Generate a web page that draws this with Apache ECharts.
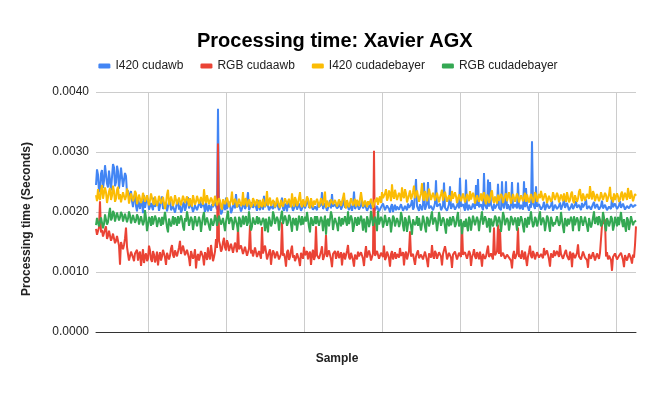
<!DOCTYPE html>
<html lang="en">
<head>
    <meta charset="UTF-8">
    <title>Processing time: Xavier AGX</title>
    <script src="https://cdn.jsdelivr.net/npm/echarts@6/dist/echarts.min.js"></script>
    <style>
        html, body { margin: 0; padding: 0; background: #fff; }
    </style>
</head>
<body>
<div id="main" style="width: 656px;height:406px;"></div>
<script type="text/javascript">
    // values, in milliseconds (about one value per pixel of the plot)
    var i420Cudawb = [
        2.45, 2.71, 2.62, 2.33, 2.38, 2.64, 2.70, 2.40, 2.52, 2.78, 2.76, 2.47, 2.41, 2.69, 2.66, 2.36, 2.58, 2.80, 2.74, 2.43,
        2.49, 2.77, 2.68, 2.39, 2.55, 2.74, 2.72, 2.42, 2.44, 2.65, 2.60, 2.31, 2.36, 2.22, 2.28, 2.35, 2.18, 2.08, 2.25, 2.30,
        2.10, 2.01, 2.22, 2.12, 2.05, 2.20, 2.16, 1.98, 2.28, 2.07, 2.08, 2.25, 2.19, 2.04, 2.02, 2.15, 2.14, 2.03, 2.24, 2.09,
        2.06, 2.14, 2.18, 2.02, 2.10, 2.19, 2.26, 2.05, 2.04, 2.11, 2.15, 2.01, 2.09, 2.17, 2.21, 2.03, 2.00, 2.10, 2.13, 1.99,
        2.07, 2.16, 2.20, 2.04, 2.11, 1.99, 2.03, 2.13, 2.17, 2.02, 2.08, 2.18, 2.25, 2.06, 2.05, 2.15, 2.14, 2.00, 2.02, 2.11,
        2.12, 2.03, 2.06, 2.14, 2.19, 2.07, 2.04, 2.15, 2.10, 2.00, 2.16, 2.06, 2.01, 2.12, 2.09, 2.02, 2.13, 2.08, 2.05, 2.17,
        2.10, 2.04, 3.72, 2.11, 2.08, 1.96, 2.00, 2.09, 2.15, 2.03, 2.24, 2.05, 2.06, 2.17, 2.12, 1.98, 2.03, 2.10, 2.18, 2.06,
        2.30, 2.08, 2.07, 2.13, 2.14, 2.01, 2.02, 2.11, 2.22, 2.05, 2.09, 2.18, 2.33, 2.03, 2.05, 2.12, 2.16, 2.07, 2.04, 2.15,
        2.12, 2.02, 2.20, 2.09, 2.03, 2.14, 2.10, 2.04, 2.27, 2.08, 2.06, 2.17, 2.15, 2.03, 2.01, 2.10, 2.11, 2.05, 2.18, 2.07,
        2.05, 2.16, 2.13, 2.03, 2.08, 2.12, 2.24, 2.06, 2.02, 2.14, 2.10, 2.01, 2.17, 2.08, 2.06, 2.15, 2.12, 2.02, 2.04, 2.11,
        2.19, 2.04, 2.07, 2.14, 2.11, 2.02, 2.03, 2.10, 2.15, 2.06, 2.09, 2.16, 2.22, 2.07, 2.05, 2.12, 2.13, 2.04, 2.01, 2.09,
        2.10, 2.03, 2.16, 2.08, 2.06, 2.12, 2.33, 2.05, 2.09, 2.15, 2.14, 2.02, 2.04, 2.11, 2.20, 2.06, 2.30, 2.09, 2.07, 2.13,
        2.12, 2.06, 2.03, 2.10, 2.18, 2.04, 2.08, 2.13, 2.24, 2.07, 2.05, 2.14, 2.11, 2.03, 2.15, 2.08, 2.02, 2.11, 2.34, 2.05,
        2.09, 2.15, 2.13, 2.04, 2.05, 2.11, 2.20, 2.06, 2.07, 2.13, 2.12, 2.02, 2.03, 2.09, 2.17, 2.05, 2.08, 2.12, 2.14, 2.03,
        2.06, 2.10, 2.12, 2.01, 2.02, 2.08, 2.09, 2.14, 2.15, 2.03, 2.04, 2.11, 2.10, 2.05, 1.99, 2.09, 2.13, 2.00, 2.07, 2.12,
        2.03, 2.09, 2.11, 2.04, 2.06, 2.13, 2.16, 2.02, 2.01, 2.10, 2.09, 2.03, 2.14, 2.07, 2.05, 2.12, 2.20, 2.04, 2.08, 2.11,
        2.55, 2.10, 2.07, 2.02, 2.13, 2.08, 2.03, 2.12, 2.49, 2.04, 2.09, 2.14, 2.50, 2.06, 2.05, 2.10, 2.12, 2.03, 2.08, 2.15,
        2.53, 2.09, 2.06, 2.12, 2.14, 2.03, 2.02, 2.10, 2.49, 2.07, 2.10, 2.02, 2.05, 2.13, 2.43, 2.05, 2.08, 2.14, 2.12, 2.04,
        2.04, 2.11, 2.15, 2.06, 2.57, 2.09, 2.07, 2.13, 2.11, 2.02, 2.54, 2.08, 2.03, 2.12, 2.13, 2.04, 2.08, 2.14, 2.16, 2.05,
        2.45, 2.10, 2.55, 2.08, 2.06, 2.13, 2.12, 2.03, 2.65, 2.11, 2.09, 2.05, 2.54, 2.09, 2.50, 2.12, 2.07, 2.02, 2.14, 2.06,
        2.04, 2.12, 2.47, 2.07, 2.10, 2.03, 2.51, 2.11, 2.06, 2.14, 2.51, 2.05, 2.13, 2.08, 2.03, 2.12, 2.50, 2.06, 2.09, 2.13,
        2.15, 2.06, 2.49, 2.09, 2.05, 2.12, 2.11, 2.04, 2.51, 2.08, 2.40, 2.11, 2.07, 2.02, 2.13, 2.07, 3.18, 2.14, 2.10, 2.05,
        2.43, 2.09, 2.06, 2.13, 2.12, 2.04, 2.02, 2.10, 2.17, 2.03, 2.08, 2.14, 2.13, 2.06, 2.04, 2.11, 2.19, 2.02, 2.07, 2.12,
        2.11, 2.05, 2.03, 2.10, 2.16, 2.04, 2.09, 2.13, 2.22, 2.07, 2.05, 2.15, 2.12, 2.03, 2.00, 2.09, 2.14, 2.05, 2.08, 2.12,
        2.18, 2.07, 2.04, 2.12, 2.10, 2.03, 2.15, 2.08, 2.06, 2.14, 2.21, 2.05, 2.02, 2.10, 2.13, 2.04, 2.09, 2.13, 2.17, 2.06,
        2.05, 2.13, 2.11, 2.04, 2.03, 2.10, 2.19, 2.06, 2.08, 2.12, 2.14, 2.03, 2.01, 2.09, 2.12, 2.05, 2.24, 2.08, 2.06, 2.14,
        2.13, 2.05, 2.04, 2.11, 2.18, 2.07, 2.09, 2.14, 2.15, 2.04, 2.03, 2.10, 2.11, 2.06, 2.07, 2.13, 2.16, 2.08, 2.05, 2.12,
        2.10
    ];
    var rgbCudaawb = [
        1.72, 1.62, 1.65, 1.74, 2.18, 1.66, 1.70, 1.59, 1.62, 1.71, 1.76, 1.55, 1.60, 1.69, 1.68, 1.52, 1.57, 1.64, 1.66, 1.48,
        1.52, 1.60, 1.58, 1.44, 1.12, 1.50, 1.49, 1.38, 1.45, 1.56, 1.74, 1.42, 1.30, 1.19, 1.22, 1.34, 1.35, 1.24, 1.18, 1.31,
        1.28, 1.37, 1.19, 1.30, 1.34, 1.10, 1.24, 1.38, 1.15, 1.27, 1.31, 1.18, 1.22, 1.44, 1.36, 1.21, 1.17, 1.35, 1.29, 1.16,
        1.23, 1.34, 1.11, 1.25, 1.33, 1.19, 1.26, 1.37, 1.40, 1.24, 1.12, 1.32, 1.35, 1.21, 1.27, 1.39, 1.45, 1.28, 1.24, 1.36,
        1.38, 1.26, 1.29, 1.41, 1.52, 1.30, 1.31, 1.44, 1.42, 1.28, 1.25, 1.37, 1.36, 1.23, 1.10, 1.35, 1.33, 1.22, 1.27, 1.38,
        1.06, 1.24, 1.30, 1.19, 1.22, 1.35, 1.37, 1.25, 1.11, 1.33, 1.28, 1.20, 1.41, 1.27, 1.21, 1.45, 1.32, 1.18, 1.25, 1.34,
        1.55, 1.40, 3.14, 1.52, 1.45, 1.34, 1.38, 1.50, 1.57, 1.41, 1.36, 1.53, 1.48, 1.35, 1.33, 1.47, 1.44, 1.32, 1.30, 1.49,
        1.42, 1.33, 1.75, 1.38, 1.35, 1.44, 1.46, 1.30, 1.31, 1.42, 1.40, 1.27, 1.29, 1.39, 1.78, 1.31, 1.37, 1.26, 1.33, 1.41,
        1.39, 1.25, 1.27, 1.35, 1.36, 1.22, 1.75, 1.31, 1.30, 1.44, 1.34, 1.21, 1.24, 1.33, 1.38, 1.12, 1.28, 1.36, 1.32, 1.23,
        1.26, 1.34, 1.35, 1.21, 1.22, 1.30, 1.83, 1.27, 1.31, 1.23, 1.09, 1.33, 1.37, 1.20, 1.25, 1.36, 1.44, 1.24, 1.28, 1.18,
        1.23, 1.31, 1.33, 1.20, 1.10, 1.32, 1.30, 1.22, 1.42, 1.28, 1.26, 1.35, 1.21, 1.30, 1.34, 1.12, 1.29, 1.37, 1.20, 1.26,
        1.76, 1.28, 1.31, 1.22, 1.24, 1.34, 1.43, 1.20, 1.18, 1.31, 1.62, 1.25, 1.27, 1.36, 1.33, 1.21, 1.08, 1.30, 1.29, 1.35,
        1.22, 1.30, 1.35, 1.23, 1.26, 1.33, 1.11, 1.28, 1.32, 1.21, 1.24, 1.35, 1.45, 1.25, 1.21, 1.32, 1.30, 1.20, 1.09, 1.29,
        1.28, 1.21, 1.34, 1.26, 1.23, 1.33, 1.31, 1.22, 1.10, 1.30, 1.43, 1.24, 1.25, 1.36, 1.29, 1.19, 1.20, 1.31, 3.02, 1.27,
        1.26, 1.35, 1.33, 1.22, 1.21, 1.32, 1.30, 1.25, 1.44, 1.20, 1.24, 1.34, 1.29, 1.23, 1.09, 1.30, 1.35, 1.21, 1.27, 1.33,
        1.22, 1.30, 1.31, 1.24, 1.40, 1.27, 1.25, 1.33, 1.11, 1.29, 1.34, 1.21, 1.28, 1.35, 1.68, 1.26, 1.23, 1.30, 1.32, 1.12,
        1.26, 1.32, 1.36, 1.23, 1.20, 1.29, 1.30, 1.21, 1.24, 1.34, 1.33, 1.19, 1.08, 1.31, 1.29, 1.24, 1.45, 1.27, 1.22, 1.35,
        1.31, 1.22, 1.25, 1.33, 1.35, 1.26, 1.11, 1.30, 1.28, 1.43, 1.34, 1.21, 1.23, 1.32, 1.30, 1.24, 1.07, 1.29, 1.27, 1.34,
        1.33, 1.21, 1.24, 1.32, 1.30, 1.25, 1.79, 1.29, 1.27, 1.33, 1.36, 1.22, 1.21, 1.35, 1.31, 1.10, 1.25, 1.30, 1.38, 1.26,
        1.22, 1.33, 1.29, 1.21, 1.34, 1.24, 1.09, 1.30, 1.32, 1.22, 1.26, 1.35, 1.44, 1.25, 1.23, 1.31, 1.30, 1.21, 1.74, 1.28,
        1.28, 1.34, 1.79, 1.30, 1.72, 1.26, 1.25, 1.32, 1.33, 1.22, 1.20, 1.29, 1.31, 1.24, 1.27, 1.19, 1.06, 1.28, 1.35, 1.22,
        1.24, 1.31, 1.74, 1.25, 1.29, 1.22, 1.36, 1.28, 1.21, 1.34, 1.32, 1.10, 1.26, 1.33, 1.44, 1.27, 1.23, 1.35, 1.30, 1.21,
        1.27, 1.33, 1.35, 1.24, 1.22, 1.30, 1.31, 1.23, 1.40, 1.28, 1.25, 1.36, 1.33, 1.21, 1.09, 1.31, 1.29, 1.24, 1.36, 1.27,
        1.24, 1.35, 1.32, 1.25, 1.45, 1.30, 1.28, 1.22, 1.21, 1.33, 1.37, 1.27, 1.26, 1.20, 1.34, 1.29, 1.08, 1.32, 1.30, 1.23,
        1.25, 1.32, 1.46, 1.26, 1.29, 1.21, 1.22, 1.34, 1.33, 1.24, 1.27, 1.20, 1.07, 1.30, 1.31, 1.22, 1.24, 1.33, 1.35, 1.19,
        1.20, 1.31, 1.28, 1.22, 1.32, 1.29, 1.78, 1.90, 1.80, 1.88, 1.26, 1.33, 1.21, 1.27, 1.30, 1.20, 1.02, 1.25, 1.24, 1.31,
        1.29, 1.21, 1.18, 1.27, 1.26, 1.32, 1.33, 1.20, 1.08, 1.28, 1.27, 1.19, 1.21, 1.31, 1.30, 1.22, 1.14, 1.29, 1.24, 1.45,
        1.76
    ];
    var i420Cudadebayer = [
        2.28, 2.18, 2.38, 2.24, 2.20, 2.36, 2.45, 2.22, 2.25, 2.41, 2.33, 2.15, 2.18, 2.34, 2.40, 2.20, 2.27, 2.44, 2.35, 2.17,
        2.22, 2.37, 2.42, 2.21, 2.30, 2.16, 2.19, 2.33, 2.36, 2.20, 2.26, 2.39, 2.32, 2.14, 2.17, 2.31, 2.29, 2.18, 2.23, 2.35,
        2.31, 2.13, 2.16, 2.29, 2.27, 2.15, 2.21, 2.32, 2.34, 2.17, 2.14, 2.28, 2.25, 2.11, 2.19, 2.31, 2.30, 2.16, 2.12, 2.26,
        2.24, 2.10, 2.17, 2.27, 2.28, 2.14, 2.11, 2.25, 2.22, 2.05, 2.15, 2.29, 2.37, 2.12, 2.13, 2.26, 2.20, 2.10, 2.16, 2.28,
        2.26, 2.13, 2.10, 2.24, 2.21, 2.11, 2.14, 2.27, 2.29, 2.15, 2.12, 2.26, 2.19, 2.10, 2.23, 2.16, 2.09, 2.28, 2.25, 2.12,
        2.17, 2.27, 2.30, 2.14, 2.13, 2.25, 2.22, 2.12, 2.38, 2.21, 2.15, 2.28, 2.26, 2.13, 2.11, 2.24, 2.20, 2.10, 2.16, 2.27,
        2.24, 2.11, 2.12, 2.23, 2.19, 2.09, 2.04, 2.21, 2.22, 2.13, 2.14, 2.24, 2.18, 2.08, 2.10, 2.20, 2.34, 2.12, 2.13, 2.22,
        2.17, 2.08, 2.09, 2.22, 2.21, 2.10, 2.14, 2.33, 2.11, 2.19, 2.23, 2.09, 2.07, 2.21, 2.16, 2.08, 2.12, 2.23, 2.19, 2.10,
        2.10, 2.21, 2.15, 2.07, 2.20, 2.12, 2.08, 2.22, 2.14, 2.09, 2.18, 2.35, 2.11, 2.17, 2.24, 2.10, 2.09, 2.20, 2.16, 2.08,
        2.13, 2.24, 2.21, 2.11, 2.07, 2.20, 2.18, 2.09, 2.12, 2.23, 2.26, 2.13, 2.10, 2.22, 2.15, 2.08, 2.31, 2.17, 2.09, 2.25,
        2.20, 2.10, 2.14, 2.24, 2.33, 2.13, 2.08, 2.21, 2.17, 2.09, 2.12, 2.26, 2.22, 2.11, 2.06, 2.23, 2.15, 2.08, 2.19, 2.12,
        2.11, 2.22, 2.16, 2.08, 2.09, 2.23, 2.21, 2.11, 2.13, 2.34, 2.07, 2.19, 2.18, 2.09, 2.12, 2.21, 2.24, 2.13, 2.10, 2.20,
        2.15, 2.09, 2.08, 2.21, 2.19, 2.10, 2.13, 2.24, 2.32, 2.12, 2.06, 2.20, 2.17, 2.08, 2.11, 2.23, 2.20, 2.11, 2.14, 2.22,
        2.09, 2.20, 2.16, 2.10, 2.12, 2.33, 2.21, 2.09, 2.07, 2.19, 2.14, 2.08, 2.18, 2.12, 2.10, 2.22, 2.15, 2.07, 2.08, 2.21,
        2.17, 2.24, 2.12, 2.21, 2.26, 2.15, 2.33, 2.23, 2.20, 2.31, 2.38, 2.19, 2.24, 2.36, 2.30, 2.18, 2.46, 2.27, 2.22, 2.37,
        2.35, 2.20, 2.19, 2.32, 2.28, 2.18, 2.41, 2.27, 2.23, 2.38, 2.31, 2.16, 2.17, 2.29, 2.36, 2.21, 2.26, 2.33, 2.44, 2.23,
        2.21, 2.36, 2.33, 2.17, 2.25, 2.31, 2.48, 2.24, 2.19, 2.35, 2.30, 2.18, 2.27, 2.39, 2.38, 2.20, 2.22, 2.32, 2.34, 2.19,
        2.18, 2.32, 2.29, 2.16, 2.24, 2.30, 2.37, 2.19, 2.20, 2.34, 2.31, 2.17, 2.15, 2.28, 2.27, 2.18, 2.35, 2.22, 2.21, 2.33,
        2.26, 2.15, 2.17, 2.29, 2.32, 2.18, 2.20, 2.31, 2.28, 2.16, 2.14, 2.30, 2.24, 2.18, 2.35, 2.21, 2.19, 2.32, 2.27, 2.14,
        2.16, 2.28, 2.30, 2.17, 2.22, 2.31, 2.18, 2.27, 2.33, 2.19, 2.13, 2.29, 2.25, 2.15, 2.21, 2.32, 2.36, 2.20, 2.15, 2.26,
        2.23, 2.14, 2.29, 2.19, 2.17, 2.30, 2.26, 2.15, 2.12, 2.27, 2.31, 2.18, 2.20, 2.33, 2.24, 2.14, 2.16, 2.30, 2.28, 2.17,
        2.19, 2.31, 2.25, 2.16, 2.14, 2.28, 2.30, 2.18, 2.21, 2.32, 2.17, 2.29, 2.27, 2.16, 2.13, 2.30, 2.24, 2.15, 2.20, 2.33,
        2.29, 2.17, 2.16, 2.30, 2.23, 2.35, 2.32, 2.19, 2.18, 2.31, 2.26, 2.15, 2.14, 2.27, 2.28, 2.17, 2.21, 2.33, 2.35, 2.20,
        2.19, 2.32, 2.27, 2.16, 2.13, 2.29, 2.24, 2.18, 2.31, 2.22, 2.17, 2.33, 2.25, 2.16, 2.20, 2.30, 2.34, 2.19, 2.15, 2.28,
        2.26, 2.17, 2.22, 2.34, 2.38, 2.24, 2.18, 2.31, 2.29, 2.19, 2.16, 2.30, 2.33, 2.22, 2.43, 2.28, 2.21, 2.35, 2.30, 2.18,
        2.17, 2.30, 2.27, 2.18, 2.23, 2.33, 2.36, 2.20, 2.19, 2.32, 2.28, 2.17, 2.14, 2.29, 2.42, 2.21, 2.25, 2.16, 2.31, 2.20,
        2.18, 2.31, 2.26, 2.17, 2.21, 2.30, 2.34, 2.19, 2.16, 2.32, 2.29, 2.20, 2.40, 2.27, 2.22, 2.36, 2.33, 2.18, 2.19, 2.30,
        2.27
    ];
    var rgbCudadebayer = [
        1.78, 1.90, 1.92, 1.76, 1.74, 1.91, 1.88, 1.73, 1.80, 1.96, 1.95, 1.79, 1.83, 1.97, 2.07, 1.86, 1.90, 2.02, 1.98, 1.84,
        1.87, 1.99, 2.02, 1.86, 1.91, 2.00, 1.96, 1.84, 1.85, 1.97, 1.99, 1.83, 1.89, 2.01, 1.94, 1.81, 1.83, 1.95, 1.97, 1.82,
        1.86, 1.96, 1.92, 1.79, 1.80, 1.93, 1.95, 1.78, 1.84, 2.03, 1.90, 1.68, 1.78, 1.92, 1.88, 1.77, 1.93, 1.79, 1.82, 1.94,
        1.89, 1.75, 1.76, 1.91, 1.85, 1.77, 1.92, 1.79, 1.81, 2.00, 1.87, 1.74, 1.66, 1.89, 1.90, 1.76, 1.83, 1.93, 1.79, 1.91,
        1.86, 1.77, 1.93, 1.81, 1.80, 1.94, 1.88, 1.76, 1.69, 1.90, 1.84, 2.01, 1.91, 1.77, 1.78, 1.92, 1.87, 1.70, 1.82, 1.93,
        1.90, 1.76, 1.77, 1.92, 1.85, 1.67, 1.81, 1.93, 2.00, 1.78, 1.79, 1.91, 1.88, 1.76, 1.69, 1.89, 1.86, 1.77, 1.83, 1.95,
        1.89, 1.77, 1.80, 1.94, 1.92, 1.79, 1.76, 1.90, 1.87, 1.68, 1.84, 1.93, 2.02, 1.80, 1.78, 1.91, 1.86, 1.70, 1.81, 1.92,
        1.91, 1.78, 1.67, 1.92, 1.88, 1.75, 1.83, 1.94, 1.79, 1.89, 1.93, 1.77, 1.82, 2.01, 1.87, 1.69, 1.76, 1.91, 1.90, 1.79,
        1.84, 1.93, 1.80, 1.91, 1.92, 1.78, 1.77, 1.90, 1.86, 1.68, 1.89, 1.78, 1.66, 1.92, 1.85, 1.76, 1.81, 2.01, 1.94, 1.80,
        1.79, 1.92, 1.87, 1.69, 1.83, 1.93, 2.02, 1.80, 1.78, 1.94, 1.88, 1.77, 1.82, 1.95, 1.91, 1.79, 1.67, 1.90, 1.86, 1.78,
        1.90, 1.69, 1.81, 1.94, 1.85, 1.78, 1.93, 1.79, 1.77, 1.92, 1.84, 2.00, 1.88, 1.75, 1.66, 1.91, 1.87, 1.77, 1.83, 1.93,
        1.80, 1.93, 1.91, 1.77, 1.76, 1.92, 1.86, 1.68, 1.84, 1.94, 1.62, 1.85, 1.89, 1.76, 1.79, 2.01, 1.93, 1.70, 1.82, 1.90,
        1.87, 1.78, 1.68, 1.92, 1.85, 1.76, 1.90, 1.79, 1.78, 1.93, 1.84, 1.77, 2.01, 1.80, 1.81, 1.94, 1.88, 1.67, 1.76, 1.91,
        1.86, 1.77, 1.92, 1.79, 1.80, 1.94, 1.85, 1.69, 1.89, 1.78, 1.66, 1.93, 1.87, 1.75, 1.83, 2.02, 1.91, 1.77, 1.79, 1.92,
        1.84, 1.68, 2.02, 1.79, 1.78, 1.92, 1.88, 1.74, 1.82, 1.95, 1.93, 1.77, 1.76, 1.91, 1.86, 1.66, 1.80, 1.94, 1.90, 1.76,
        1.74, 1.90, 1.85, 1.75, 1.81, 2.00, 1.92, 1.77, 1.68, 1.91, 1.87, 1.67, 1.79, 1.94, 1.84, 1.76, 1.62, 1.88, 1.89, 1.78,
        1.82, 1.93, 1.77, 1.90, 1.91, 1.69, 1.80, 1.94, 1.86, 1.75, 1.66, 1.92, 1.88, 1.76, 1.83, 1.93, 2.01, 1.79, 1.78, 1.91,
        1.85, 1.68, 1.81, 2.00, 1.90, 1.77, 1.76, 1.91, 1.87, 1.75, 1.64, 1.89, 1.84, 1.76, 1.92, 1.78, 1.79, 1.93, 1.86, 1.75,
        1.80, 1.91, 2.00, 1.76, 1.77, 1.88, 1.63, 1.79, 1.85, 1.75, 1.89, 1.77, 1.68, 1.92, 1.87, 1.69, 1.82, 1.94, 1.91, 1.78,
        1.78, 1.92, 1.86, 1.68, 1.83, 1.91, 2.01, 1.79, 1.76, 1.93, 1.88, 1.74, 1.81, 1.90, 1.66, 1.89, 1.87, 1.76, 1.84, 1.94,
        1.90, 1.76, 1.79, 1.92, 1.85, 1.67, 1.82, 2.00, 1.93, 1.78, 1.75, 1.90, 1.86, 1.69, 1.80, 1.93, 1.89, 1.78, 1.77, 1.91,
        1.84, 1.69, 1.91, 1.77, 1.78, 1.93, 1.87, 1.76, 1.66, 1.90, 1.85, 1.74, 1.92, 1.79, 1.81, 2.01, 1.86, 1.75, 1.79, 1.92,
        1.88, 1.76, 1.82, 1.93, 2.01, 1.78, 1.77, 1.91, 1.85, 1.68, 1.80, 1.94, 1.90, 1.77, 1.67, 1.92, 1.86, 1.76, 1.83, 1.79,
        1.79, 1.93, 1.92, 1.77, 1.81, 2.00, 1.87, 1.75, 1.65, 1.90, 1.84, 1.76, 1.89, 1.79, 1.78, 1.92, 1.85, 1.68, 1.93, 1.78,
        1.76, 1.91, 1.86, 1.68, 1.82, 1.93, 1.90, 1.77, 1.79, 1.92, 1.84, 1.76, 1.67, 1.90, 1.88, 1.74, 1.81, 1.91, 2.01, 1.80,
        1.83, 1.92, 1.78, 1.93, 1.87, 1.76, 1.80, 2.00, 1.91, 1.77, 1.68, 1.90, 1.85, 1.76, 1.82, 1.93, 1.89, 1.69, 1.77, 1.92,
        1.86, 1.76, 1.92, 1.78, 1.79, 2.00, 1.84, 1.75, 1.88, 1.77, 1.67, 1.91, 1.87, 1.70, 1.81, 1.93, 1.90, 1.78, 1.83, 1.80,
        1.86
    ];
    var samples = [];   // x categories: sample index
    for (var i = 0; i < i420Cudawb.length; i++) {
        samples.push(i + 1);
    }
    var yTicks = [0, 0.001, 0.002, 0.003, 0.004];

    function toSeconds(arr) {
        return arr.map(function (v) { return v / 1000; });
    }

    var font = 'Liberation Sans, Arial, sans-serif';
    var myChart = echarts.init(document.getElementById('main'));
    myChart.setOption({
        animation: false,
        backgroundColor: '#ffffff',
        textStyle: { fontFamily: font },
        title: {
            text: 'Processing time: Xavier AGX',
            left: 197,
            top: 31,
            padding: 0,
            textStyle: { fontFamily: font, fontSize: 20, fontWeight: 'bold', color: '#000' }
        },
        legend: {
            top: 60,
            left: 'center',
            padding: 0,
            icon: 'roundRect',
            itemWidth: 12,
            itemHeight: 5,
            itemGap: 17,
            textStyle: { fontFamily: font, fontSize: 12, color: '#222' },
            data: ['I420 cudawb', 'RGB cudaawb', 'I420 cudadebayer', 'RGB cudadebayer']
        },
        grid: { left: 96, right: 20, top: 92, bottom: 74 },
        xAxis: {
            type: 'category',
            data: samples,
            boundaryGap: false,
            name: 'Sample',
            nameLocation: 'middle',
            nameGap: 21,
            nameTextStyle: { fontFamily: font, fontSize: 12, fontWeight: 'bold', color: '#222', padding: [0, 58, 0, 0] },
            axisLine: { lineStyle: { color: '#333', width: 1 } },
            axisTick: { show: false },
            axisLabel: { show: false },
            splitLine: {
                show: true,
                // a grid line every 78 samples, first one at sample 53
                interval: function (index) { return index >= 52 && (index - 52) % 78 === 0; },
                lineStyle: { color: '#cccccc', width: 1 }
            }
        },
        yAxis: {
            type: 'value',
            min: yTicks[0],
            max: yTicks[yTicks.length - 1],
            interval: 0.001,
            name: 'Processing time (Seconds)',
            nameLocation: 'middle',
            nameGap: 63,
            nameTextStyle: { fontFamily: font, fontSize: 12, fontWeight: 'bold', color: '#222', padding: [0, 14, 0, 0] },
            axisLine: { show: false },
            axisTick: { show: false },
            axisLabel: {
                margin: 7,
                fontFamily: font,
                fontSize: 12,
                color: '#222',
                formatter: function (v) { return v.toFixed(4); }
            },
            splitLine: { lineStyle: { color: '#cccccc', width: 1 } }
        },
        series: [{
            name: 'I420 cudawb',
            type: 'line',
            data: toSeconds(i420Cudawb),
            symbol: 'none',
            itemStyle: { color: '#4285F4' },
            lineStyle: { color: '#4285F4', width: 2 }
        }, {
            name: 'RGB cudaawb',
            type: 'line',
            data: toSeconds(rgbCudaawb),
            symbol: 'none',
            itemStyle: { color: '#EA4335' },
            lineStyle: { color: '#EA4335', width: 2 }
        }, {
            name: 'I420 cudadebayer',
            type: 'line',
            data: toSeconds(i420Cudadebayer),
            symbol: 'none',
            itemStyle: { color: '#FBBC04' },
            lineStyle: { color: '#FBBC04', width: 2 }
        }, {
            name: 'RGB cudadebayer',
            type: 'line',
            data: toSeconds(rgbCudadebayer),
            symbol: 'none',
            itemStyle: { color: '#34A853' },
            lineStyle: { color: '#34A853', width: 2 }
        }]
    });
</script>
</body>
</html>
